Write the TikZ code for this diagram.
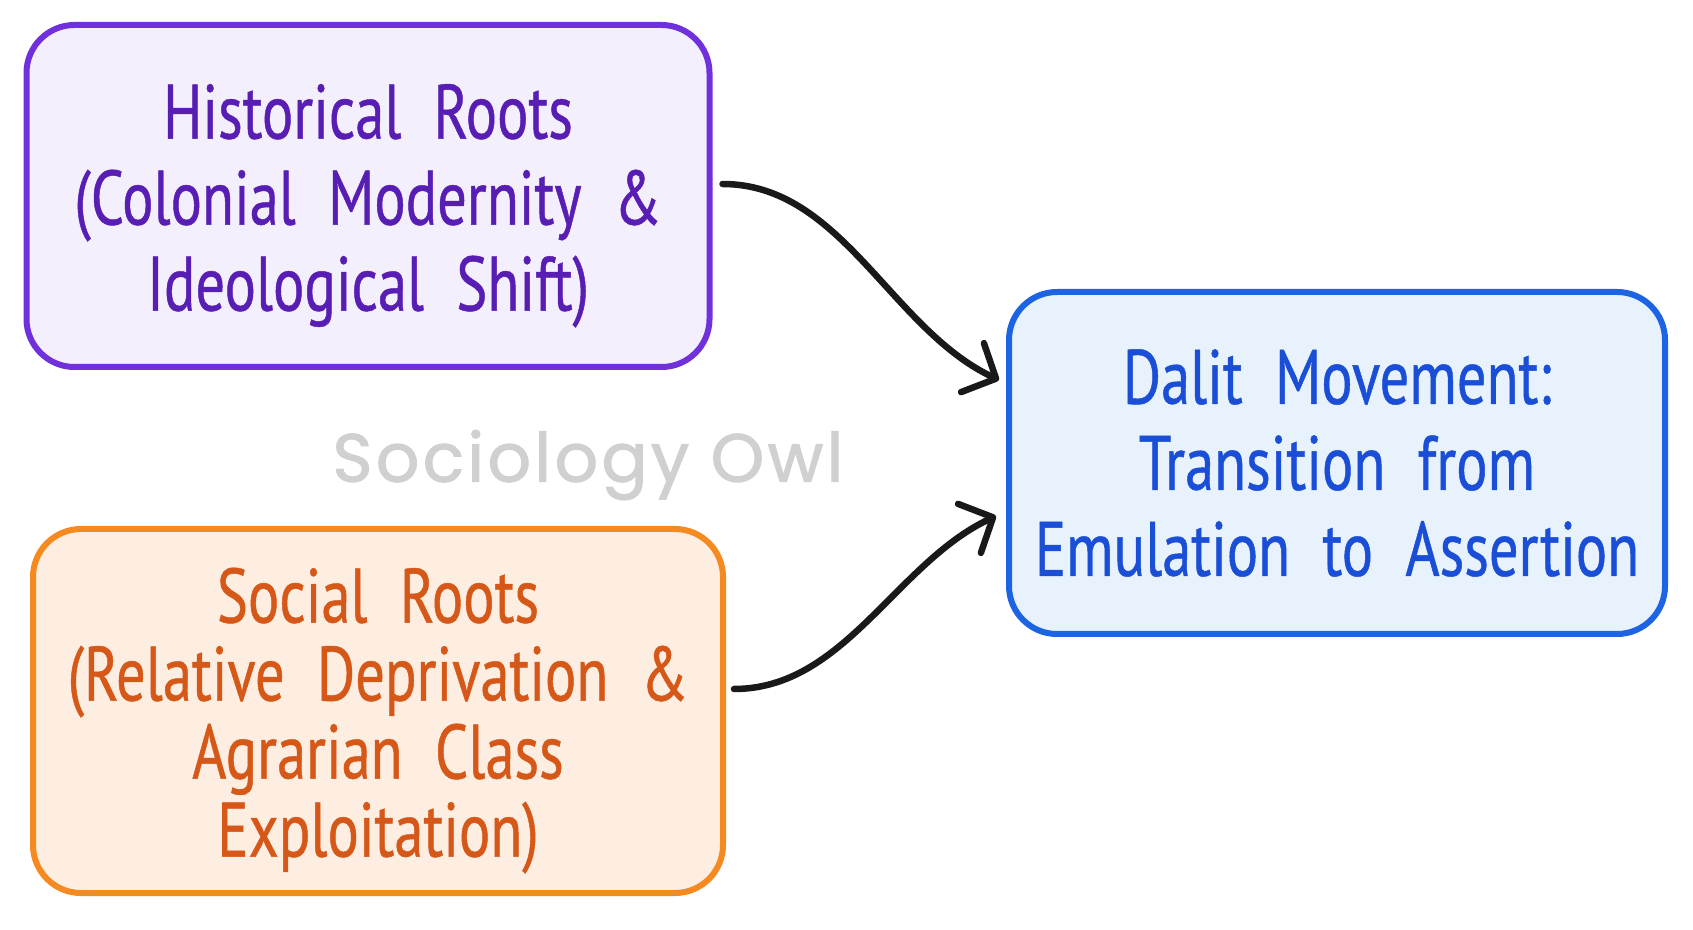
\documentclass[tikz,border=0pt]{standalone}
\usepackage{fontspec}
\setmainfont{PT Sans}
\newfontfamily\handfont[FakeStretch=0.76, FakeBold=0.6]{PT Sans}
\newfontfamily\markfont[FakeBold=1.6, LetterSpace=5]{Poppins}
\usepackage{tikz}
\usetikzlibrary{arrows.meta}
\definecolor{histline}{RGB}{112, 48, 220}
\definecolor{histfill}{RGB}{244, 239, 253}
\definecolor{histtext}{RGB}{88, 30, 180}
\definecolor{socline}{RGB}{244, 138, 32}
\definecolor{socfill}{RGB}{253, 238, 225}
\definecolor{soctext}{RGB}{214, 88, 24}
\definecolor{dalline}{RGB}{28, 100, 228}
\definecolor{dalfill}{RGB}{231, 242, 253}
\definecolor{daltext}{RGB}{26, 78, 214}
\definecolor{owlgray}{RGB}{208, 208, 208}
\newcommand{\handtext}[1]{\handfont\fontsize{77}{#1}\selectfont\spaceskip=0.42em plus 0.1em\relax}
\newcommand{\topgap}{\rule{0pt}{74pt}}

\begin{document}
\begin{tikzpicture}[x=1pt, y=1pt,
    rootbox/.style={rounded corners=48pt, line width=6pt, align=center,
        inner sep=0pt, font=\handtext{86}},
    flow/.style={line width=6.5pt, line cap=round, black!90,
        -{Straight Barb[length=26pt, width=54pt, round]}}]
    \useasboundingbox (0,0) rectangle (1693,929);

    % Watermark
    \node[owlgray, font=\markfont\fontsize{68}{76}\selectfont] (owl) at (588,464) {Sociology Owl};

    % Historical roots
    \node[rootbox, draw=histline, fill=histfill, text=histtext,
        minimum width=683pt, minimum height=342pt] (hist) at (368,733)
        {\topgap Historical Roots\\(Colonial Modernity \&\\Ideological Shift)};

    % Social roots
    \node[rootbox, draw=socline, fill=socfill, text=soctext,
        minimum width=690pt, minimum height=364pt, font=\handtext{78}] (soc) at (378,218)
        {\topgap Social Roots\\(Relative Deprivation \&\\Agrarian Class\\Exploitation)};

    % Dalit movement
    \node[rootbox, draw=dalline, fill=dalfill, text=daltext,
        minimum width=656pt, minimum height=342pt] (dalit) at (1337,466)
        {Dalit Movement:\\Transition from\\Emulation to Assertion};

    % Connectors
    \draw[flow] ([shift={(10,12)}]hist.east) to[out=0, in=155, looseness=0.9] ([shift={(-7,83)}]dalit.west);
    \draw[flow] ([shift={(8,22)}]soc.east) to[out=0, in=205, looseness=0.9] ([shift={(-10,-53)}]dalit.west);
\end{tikzpicture}
\end{document}
